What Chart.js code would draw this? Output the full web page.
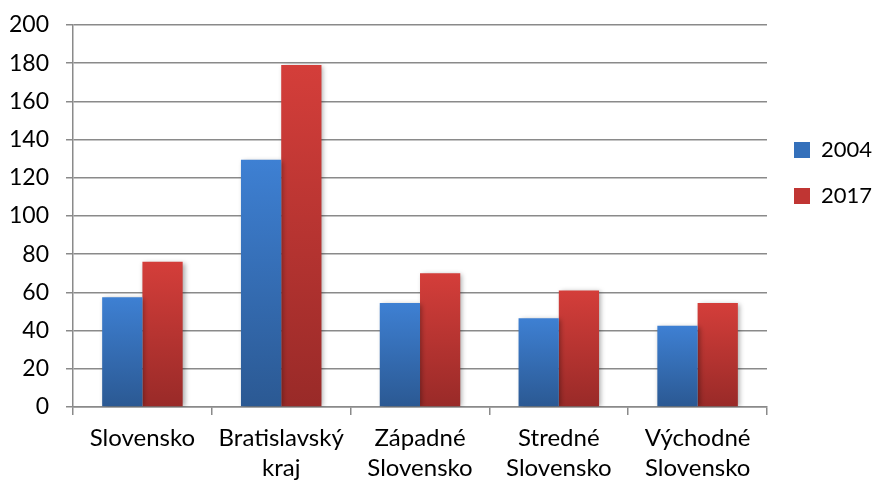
<!DOCTYPE html>
<html>
<head>
<meta charset="utf-8">
<script src="https://cdn.jsdelivr.net/npm/chart.js@4/dist/chart.umd.min.js"></script>
<style>
  html, body { margin: 0; padding: 0; background: #fff; }
  #wrap { width: 873px; height: 482px; }
</style>
</head>
<body>
<div id="wrap"><canvas id="chart"></canvas></div>
<script>
const regions = [
    'Slovensko',
    ['Bratislavský', 'kraj'],
    ['Západné', 'Slovensko'],
    ['Stredné', 'Slovensko'],
    ['Východné', 'Slovensko']
];
const values2004 = [57.5, 129.5, 54.5, 46.5, 42.5];
const values2017 = [76, 179, 70, 61, 54.5];
const yTicks = [0, 20, 40, 60, 80, 100, 120, 140, 160, 180, 200];

const FONT = 'Lato, "Open Sans", sans-serif';
const gridGrey = '#8a8a8a';

// top / bottom colour of each series gradient
const shades = [
    ['#3e80d3', '#2b5993'],
    ['#d43e3a', '#992a28']
];

// each bar gets its own vertical gradient, like the office chart
const barGradient = {
    id: 'barGradient',
    beforeDatasetsDraw(chart) {
        const ctx = chart.ctx;
        chart.data.datasets.forEach((ds, i) => {
            const meta = chart.getDatasetMeta(i);
            meta.data.forEach(el => {
                const g = ctx.createLinearGradient(0, el.y, 0, el.base);
                g.addColorStop(0, shades[i][0]);
                g.addColorStop(1, shades[i][1]);
                el.options = Object.assign({}, el.options, {backgroundColor: g});
            });
        });
    },
    beforeDatasetDraw(chart) {
        const ctx = chart.ctx;
        ctx.save();
        ctx.shadowColor = 'rgba(0,0,0,0.35)';
        ctx.shadowBlur = 5;
        ctx.shadowOffsetX = 2;
        ctx.shadowOffsetY = 1;
    },
    afterDatasetDraw(chart) {
        chart.ctx.restore();
    }
};

// move the legend up beside the plot like the reference
const legendPlace = {
    id: 'legendPlace',
    afterLayout(chart) {
        const lg = chart.legend;
        lg.left = 770;
        lg.right = 873;
        lg.top = 115;
        lg.bottom = 300;
    }
};

const config = {
    type: 'bar',
    data: {
        labels: regions,
        datasets: [
            {label: '2004', data: values2004, backgroundColor: '#3470bb'},
            {label: '2017', data: values2017, backgroundColor: '#c03533'}
        ]
    },
    options: {
        responsive: true,
        maintainAspectRatio: false,
        animation: false,
        layout: {padding: {top: 0, left: -8, right: 0, bottom: -9}},
        datasets: {
            bar: {barPercentage: 1, categoryPercentage: 0.58, borderWidth: 0}
        },
        plugins: {
            legend: {
                position: 'right',
                align: 'start',
                maxWidth: 106,
                labels: {
                    boxWidth: 16,
                    boxHeight: 16,
                    padding: 24,
                    color: '#000',
                    font: {family: FONT, size: 22}
                }
            },
            tooltip: {enabled: false}
        },
        scales: {
            x: {
                offset: true,
                grid: {
                    offset: true,
                    drawOnChartArea: false,
                    tickLength: 8,
                    color: gridGrey,
                    lineWidth: 1.5
                },
                border: {display: true, color: gridGrey, width: 1.5},
                ticks: {
                    color: '#000',
                    padding: 8,
                    maxRotation: 0,
                    autoSkip: false,
                    font: {family: FONT, size: 24, lineHeight: 1.25}
                }
            },
            y: {
                min: 0,
                max: 200,
                afterBuildTicks(axis) {
                    axis.ticks = yTicks.map(v => ({value: v}));
                },
                afterFit(axis) {
                    axis.paddingTop = 25;
                },
                grid: {
                    color: gridGrey,
                    lineWidth: 1.5,
                    tickLength: 7
                },
                border: {display: true, color: gridGrey, width: 1.5},
                ticks: {
                    color: '#000',
                    padding: 17,
                    font: {family: FONT, size: 23}
                }
            }
        }
    },
    plugins: [barGradient, legendPlace]
};

new Chart(document.getElementById('chart'), config);
</script>
</body>
</html>
